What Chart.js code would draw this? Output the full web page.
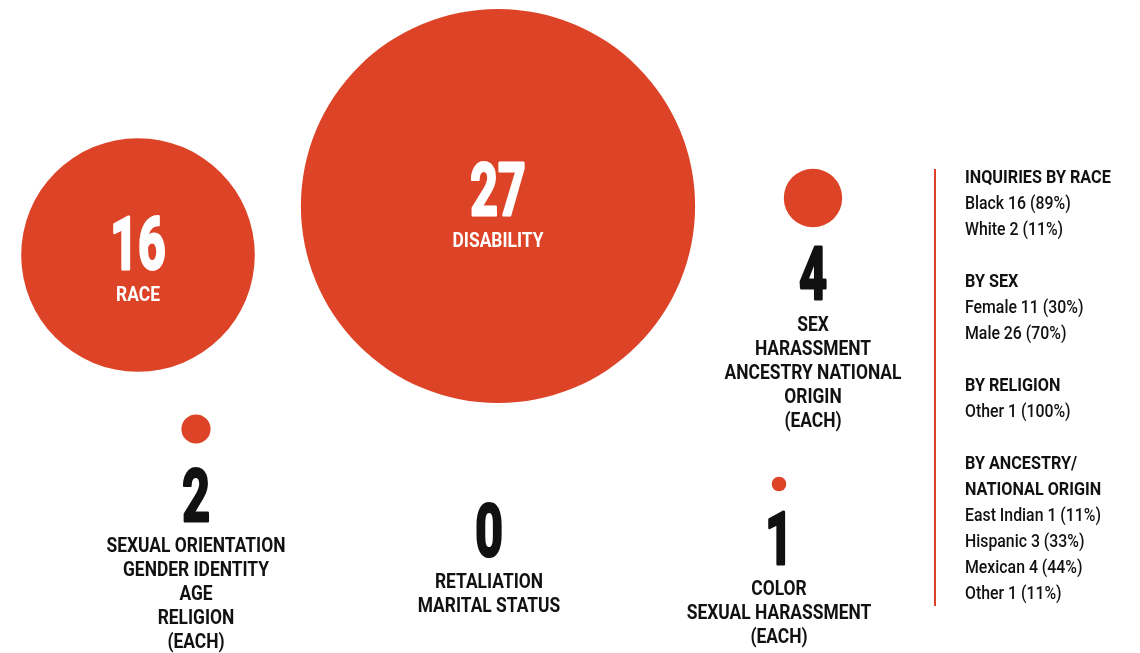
<!DOCTYPE html>
<html>
<head>
    <script src="https://cdn.jsdelivr.net/npm/chart.js"></script>
    <style>
        html, body { margin: 0; padding: 0; background: #fff; }
    </style>
</head>
<body>
    <canvas id="bubbleChart" width="1140" height="653"></canvas>

    <script>
        // inquiry counts by basis
        const counts = [16, 27, 4, 2, 0, 1];
        const basisLabels = [
            ['RACE'],
            ['DISABILITY'],
            ['SEX', 'HARASSMENT', 'ANCESTRY NATIONAL', 'ORIGIN', '(EACH)'],
            ['SEXUAL ORIENTATION', 'GENDER IDENTITY', 'AGE', 'RELIGION', '(EACH)'],
            ['RETALIATION', 'MARITAL STATUS'],
            ['COLOR', 'SEXUAL HARASSMENT', '(EACH)']
        ];

        // side panel breakdowns
        const panelHeads = [['INQUIRIES BY RACE'], ['BY SEX'], ['BY RELIGION'], ['BY ANCESTRY/', 'NATIONAL ORIGIN']];
        const panelRows = [
            ['Black 16 (89%)', 'White 2 (11%)'],
            ['Female 11 (30%)', 'Male 26 (70%)'],
            ['Other 1 (100%)'],
            ['East Indian 1 (11%)', 'Hispanic 3 (33%)', 'Mexican 4 (44%)', 'Other 1 (11%)']
        ];

        // where each bubble sits (chart units = px) and where its text goes
        const layout = [
            { x: 138, y: 255, numY: 270, labY: 301, inside: true },
            { x: 498, y: 206, numY: 216, labY: 247, inside: true },
            { x: 813, y: 198, numY: 300, labY: 331 },
            { x: 196, y: 429, numY: 522, labY: 552 },
            { x: 489, y: 480, numY: 557, labY: 588 },
            { x: 779, y: 484, numY: 565, labY: 595 }
        ];

        const RED = '#dc4327';
        const PX_PER_UNIT = 7.3; // radius grows linearly with count

        function squeezed(ctx, text, x, y, font, sx, color, align, thick) {
            ctx.save();
            ctx.font = font;
            ctx.fillStyle = color;
            ctx.textBaseline = 'alphabetic';
            ctx.translate(x, y);
            ctx.scale(sx, 1);
            ctx.textAlign = align || 'center';
            if (thick) {
                ctx.strokeStyle = color;
                ctx.lineWidth = thick;
                ctx.lineJoin = 'round';
                ctx.strokeText(text, 0, 0);
            }
            ctx.fillText(text, 0, 0);
            ctx.restore();
        }

        const textPlugin = {
            id: 'bubbleText',
            afterDatasetsDraw(chart) {
                const ctx = chart.ctx;
                const meta = chart.getDatasetMeta(0);
                meta.data.forEach((pt, i) => {
                    const l = layout[i];
                    const col = l.inside ? '#ffffff' : '#111111';
                    squeezed(ctx, String(counts[i]), pt.x, l.numY - 1, 'bold 73px Roboto', 0.66, col, 'center', 3);
                    basisLabels[i].forEach((t, j) => {
                        squeezed(ctx, t, pt.x, l.labY + j * 24, 'bold 20px Roboto', 0.87, col);
                    });
                });

                // side panel
                ctx.save();
                ctx.strokeStyle = RED;
                ctx.lineWidth = 2;
                ctx.beginPath();
                ctx.moveTo(935, 169);
                ctx.lineTo(935, 606);
                ctx.stroke();
                ctx.restore();

                let y = 183;
                panelHeads.forEach((heads, g) => {
                    heads.forEach(h => {
                        squeezed(ctx, h, 965, y, 'bold 18px Roboto', 0.9, '#111111', 'left');
                        y += 26;
                    });
                    panelRows[g].forEach(r => {
                        squeezed(ctx, r, 965, y, '500 18px Roboto', 0.88, '#111111', 'left');
                        y += 26;
                    });
                    y += 26;
                });
            }
        };

        new Chart(document.getElementById('bubbleChart'), {
            type: 'bubble',
            data: {
                datasets: [{
                    data: counts.map((c, i) => ({ x: layout[i].x, y: layout[i].y, r: c * PX_PER_UNIT })),
                    backgroundColor: RED,
                    borderWidth: 0,
                    hoverRadius: 0,
                    clip: false
                }]
            },
            options: {
                responsive: false,
                animation: false,
                layout: { padding: 0, autoPadding: false },
                scales: {
                    x: { display: false, min: 0, max: 1140 },
                    y: { display: false, min: 0, max: 653, reverse: true }
                },
                plugins: {
                    legend: { display: false },
                    tooltip: { enabled: false }
                }
            },
            plugins: [textPlugin]
        });
    </script>
</body>
</html>
